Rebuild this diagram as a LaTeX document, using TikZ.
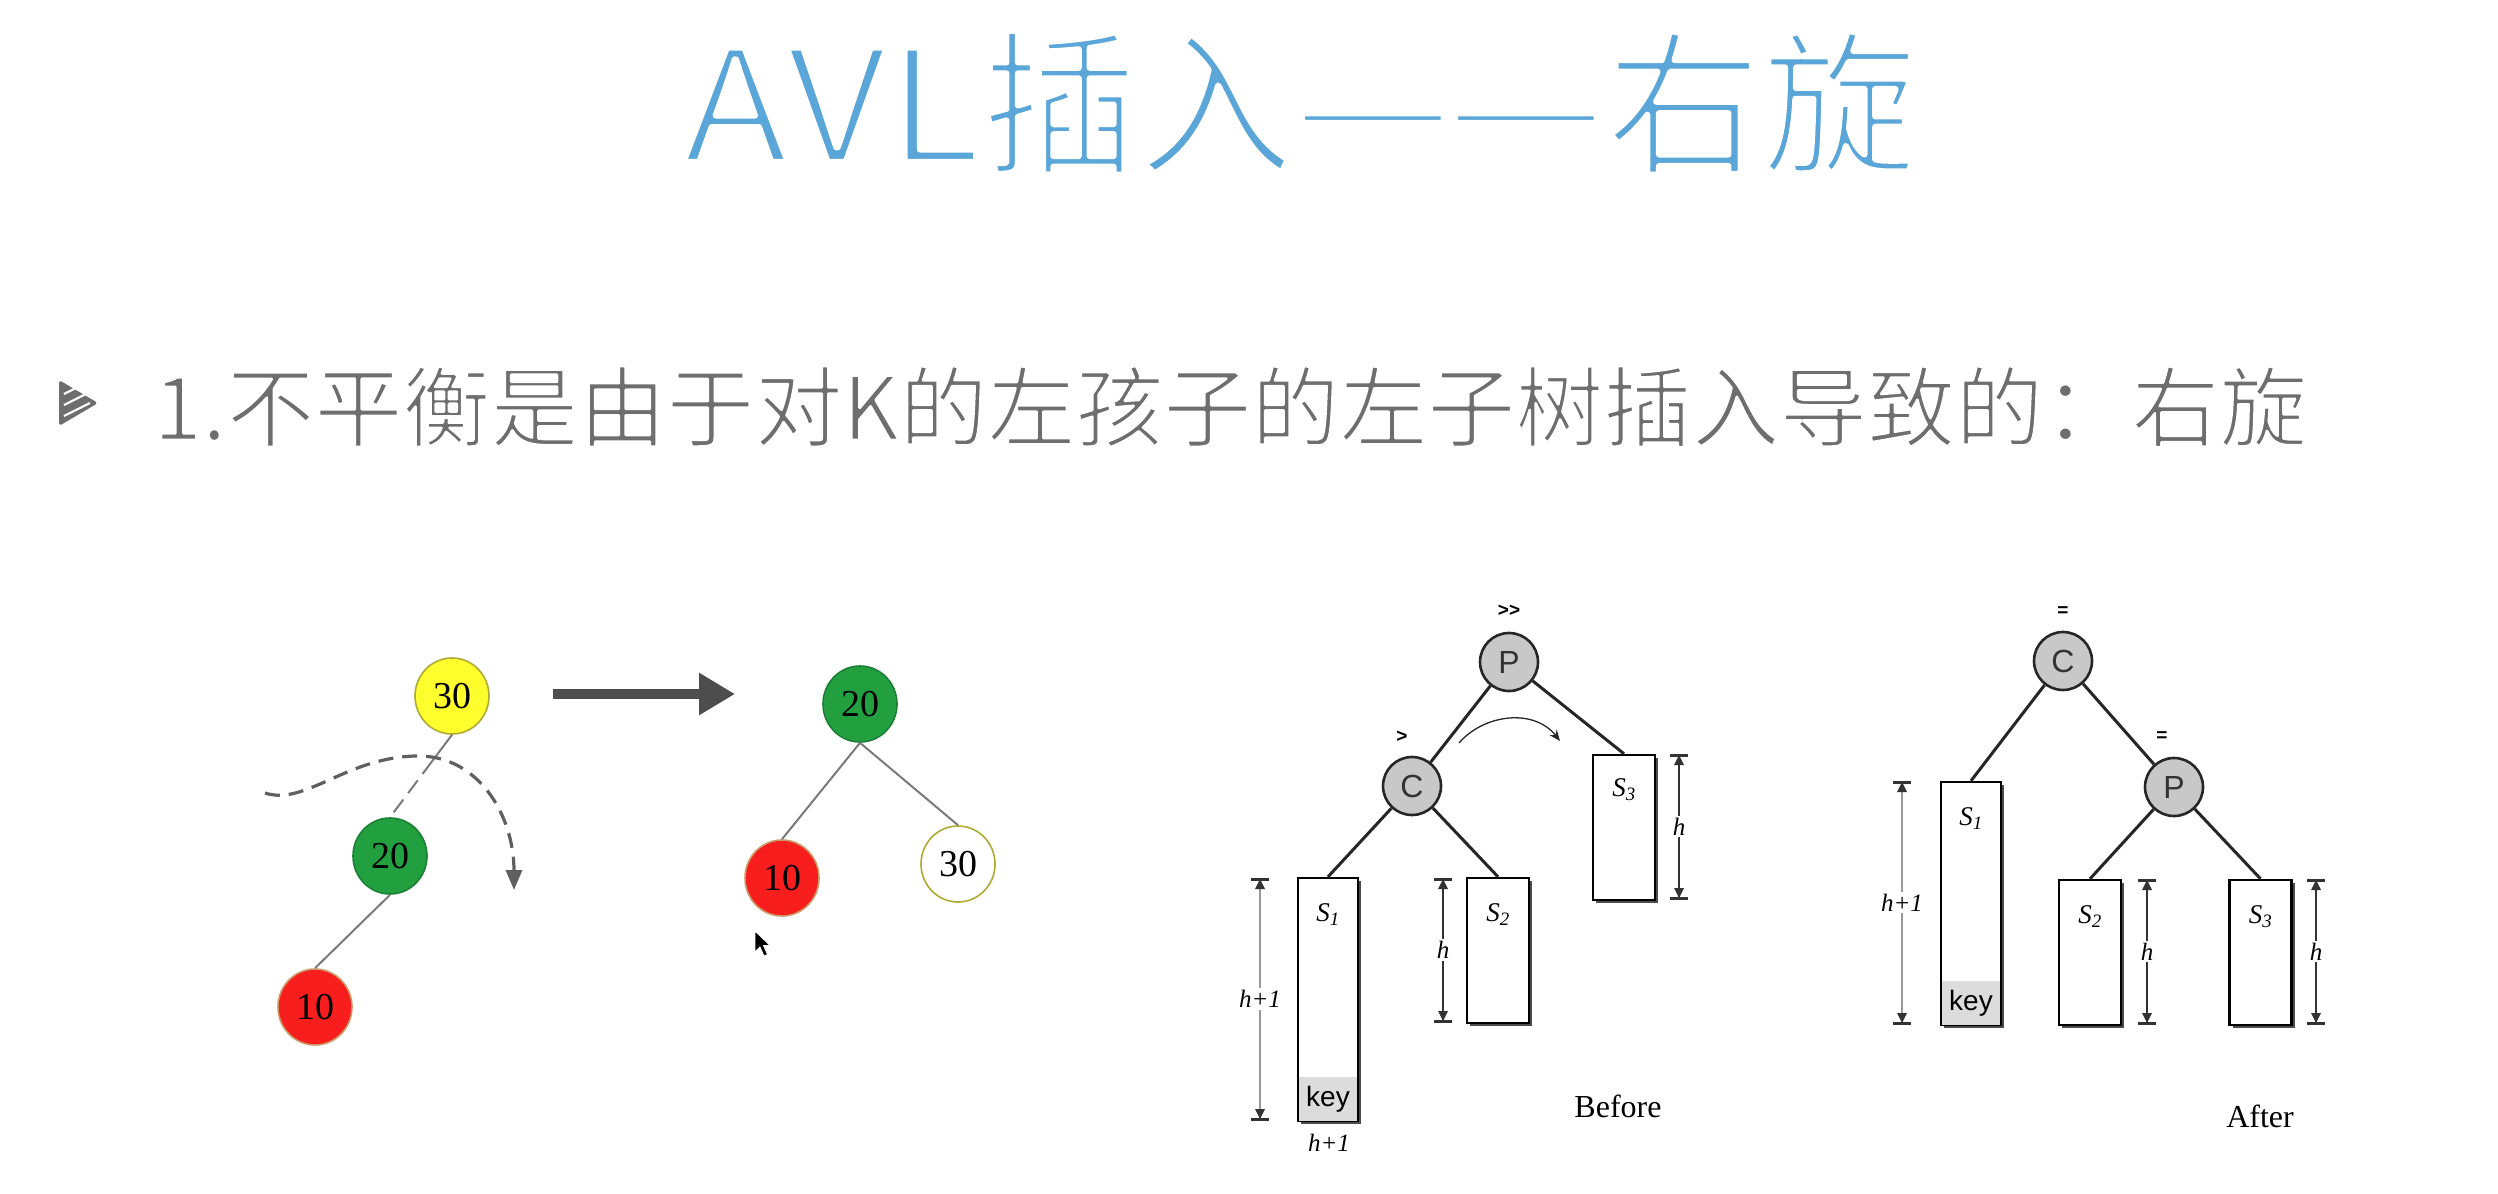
\documentclass[tikz,border=0pt]{standalone}
\usepackage{fontspec}
\setmainfont{Liberation Serif}
\newfontfamily\cjk{Noto Sans CJK SC}
\newfontfamily\lsans{Liberation Sans}
\usetikzlibrary{arrows.meta,shapes.geometric,calc,shadows}

\definecolor{titleblue}{HTML}{5AA6D8}
\definecolor{subgray}{HTML}{6E6E6E}
\definecolor{nyellow}{HTML}{FFFF2E}
\definecolor{ngreen}{HTML}{22A040}
\definecolor{nred}{HTML}{F81E1E}
\definecolor{edgegray}{HTML}{7A7A7A}
\definecolor{arrowgray}{HTML}{4D4D4D}
\definecolor{keygray}{HTML}{DCDCDC}
\definecolor{circgray}{HTML}{C8C8C8}

% light glyphs: outline stroked in white over the fill
\newcommand\lighttext[2]{\special{pdf:literal direct 2 Tr #1 w 1 1 1 RG 1 j}#2\special{pdf:literal direct 0 Tr}}
\newcommand\wide[2]{\scalebox{#1}[1]{\lighttext{6}{#2}}}

% height marker with bar ends
\newcommand\heightbar[6]{% name, x, y1, y2, label, line colour
  \draw[#6, line width=1.4] (#2,#3) -- (#2,#4);
  \draw[black!80, line width=3] (#2-9,#3) -- (#2+9,#3);
  \draw[black!80, line width=3] (#2-9,#4) -- (#2+9,#4);
  \fill[black!80] (#2,#3) -- (#2-5,#3+10) -- (#2+5,#3+10) -- cycle;
  \fill[black!80] (#2,#4) -- (#2-5,#4-10) -- (#2+5,#4-10) -- cycle;
  \node[fill=white, inner sep=2, font=\fontsize{25}{25}\selectfont\itshape] (#1) at (#2, {(#3+#4)/2}) {#5};
}

\tikzset{
  numnode/.style={ellipse, minimum width=74, minimum height=76, inner sep=0,
    line width=1.6, font=\fontsize{38}{38}\selectfont},
  treeedge/.style={edgegray, line width=2},
  rotnode/.style={circle, minimum size=58, inner sep=0, fill=circgray,
    draw=black!85, line width=2.6, font=\lsans\fontsize{32}{32}\selectfont\color{black!80}},
  subtree/.style={rectangle, draw=black, line width=2.4, fill=white, inner sep=0,
    drop shadow={shadow xshift=3pt, shadow yshift=-3pt, fill=black!70, opacity=1}},
  keybox/.style={rectangle, fill=keygray, inner sep=0, anchor=south,
    font=\lsans\fontsize{28}{28}\selectfont},
  slabel/.style={font=\fontsize{27}{27}\selectfont\itshape},
  bal/.style={font=\lsans\bfseries\fontsize{19}{19}\selectfont},
  blackedge/.style={black!85, line width=3},
  caption/.style={font=\fontsize{32}{32}\selectfont}
}

\begin{document}
\begin{tikzpicture}[x=1pt, y=-1pt]
\useasboundingbox (0,0) rectangle (2498,1194);
\fill[white] (0,0) rectangle (2498,1194);

% heading and bullet line
\node[anchor=base, inner sep=0, text=titleblue, font=\cjk\fontsize{156}{160}\selectfont]
  (title) at (1300,162) {\wide{1.12}{AVL}\lighttext{6}{插入}\wide{1.14}{—}\kern-6pt\wide{1.14}{—}\lighttext{6}{右旋}};
\fill[subgray, rounded corners=3] (59,380) -- (98,403) -- (59,426) -- cycle;
\draw[white, line width=2.2] (64,394) -- (80,386) (64,405) -- (88,393) (64,416) -- (90,403);
\node[anchor=base west, inner sep=0, text=subgray, font=\cjk\fontsize{88}{92}\selectfont]
  (sub) at (153,440) {\lighttext{2.6}{1.不平衡是由于对K的左孩子的左子树插入导致的：右旋}};

% left tree before rotation
\node[numnode, fill=nyellow, draw=olive!70] (l30) at (452,696) {30};
\node[numnode, fill=ngreen, draw=ngreen!80!black] (l20) at (390,856) {20};
\node[numnode, fill=nred, draw=brown!80] (l10) at (315,1007) {10};
\coordinate (lsplit) at ($(l30.south)!0.32!(l20.north)$);
\draw[treeedge] (l30.south) -- (lsplit);
\draw[treeedge, dash pattern=on 16pt off 8pt] (lsplit) -- (l20.north);
\draw[treeedge] (l20.south) -- (l10.north);

% rotation path
\coordinate (rs) at (265,793);
\coordinate (rp) at (415,756);
\coordinate (re) at (514,890);
\draw[arrowgray!90, line width=3.2, dash pattern=on 15pt off 9pt,
  -{Triangle[length=20pt, width=16pt]}]
  (rs) .. controls (305,806) and (345,758) .. (rp)
       .. controls (478,754) and (514,815) .. (re);

% transition arrow
\coordinate (ta) at (553,694);
\coordinate (tb) at (735,694);
\draw[arrowgray, line width=10, -{Triangle[length=36pt, width=40pt]}] (ta) -- (tb);

% right tree after rotation
\node[numnode, fill=ngreen, draw=ngreen!80!black] (r20) at (860,704) {20};
\node[numnode, fill=nred, draw=brown!80] (r10) at (782,878) {10};
\node[numnode, fill=white, draw=olive!70] (r30) at (958,864) {30};
\draw[treeedge] (r20.south) -- (r10.north);
\draw[treeedge] (r20.south) -- (r30.north);

% pointer
\filldraw[fill=black, draw=white, line width=0.8]
  (755,931) -- (755,952) -- (760,947) -- (764,956) -- (767.5,954.5) -- (763.5,945.5) -- (770,945.5) -- cycle;

% general case: before
\node[rotnode] (bP) at (1509,662) {P};
\node[rotnode] (bC) at (1412,786) {C};
\node[bal] (bPb) at (1509,611) {>>};
\node[bal] (bCb) at (1402,737) {>};
\node[subtree, minimum width=60, minimum height=243] (bS1) at (1328,999.5) {};
\node[subtree, minimum width=62, minimum height=145] (bS2) at (1498,950.5) {};
\node[subtree, minimum width=62, minimum height=145] (bS3) at (1624,827.5) {};
\node[keybox, minimum width=57.5, minimum height=44] (bkey) at ([yshift=1.2pt]bS1.south) {key};
\node[slabel] (bS1l) at ([yshift=-38pt]bS1.north) {S\textsubscript{1}};
\node[slabel] (bS2l) at ([yshift=-38pt]bS2.north) {S\textsubscript{2}};
\node[slabel] (bS3l) at ([yshift=-36pt]bS3.north) {S\textsubscript{3}};
\draw[blackedge] (bP) -- (bC);
\draw[blackedge] (bP) -- (bS3.north);
\draw[blackedge] (bC) -- (bS1.north);
\draw[blackedge] (bC) -- (bS2.north);
\coordinate (ca) at (1459,743);
\coordinate (cb) at (1560,741);
\draw[black!85, line width=1.3, -{Stealth[length=11pt, width=9pt]}]
  (ca) .. controls (1484,714) and (1534,708) .. (cb);
\heightbar{bh1}{1260}{879}{1119}{h+1}{black!40}
\heightbar{bh2}{1443}{879}{1021}{h}{black!80}
\heightbar{bh3}{1679}{755}{898}{h}{black!80}
\node[font=\fontsize{25}{25}\selectfont\itshape] (bh1b) at (1329,1143) {h+1};
\node[caption] (before) at (1618,1106) {Before};

% general case: after
\node[rotnode] (aC) at (2063,661) {C};
\node[rotnode] (aP) at (2174,787) {P};
\node[bal] (aCb) at (2063,612) {=};
\node[bal] (aPb) at (2162,737) {=};
\node[subtree, minimum width=60, minimum height=243] (aS1) at (1971,903.5) {};
\node[subtree, minimum width=62, minimum height=145] (aS2) at (2090,952.5) {};
\node[subtree, minimum width=62, minimum height=145] (aS3) at (2260.5,952.5) {};
\node[keybox, minimum width=57.5, minimum height=44] (akey) at ([yshift=1.2pt]aS1.south) {key};
\node[slabel] (aS1l) at ([yshift=-38pt]aS1.north) {S\textsubscript{1}};
\node[slabel] (aS2l) at ([yshift=-38pt]aS2.north) {S\textsubscript{2}};
\node[slabel] (aS3l) at ([yshift=-38pt]aS3.north) {S\textsubscript{3}};
\draw[blackedge] (aC) -- (aP);
\draw[blackedge] (aC) -- (aS1.north);
\draw[blackedge] (aP) -- (aS2.north);
\draw[blackedge] (aP) -- (aS3.north);
\heightbar{ah1}{1902}{782}{1023}{h+1}{black!40}
\heightbar{ah2}{2147}{880}{1023}{h}{black!80}
\heightbar{ah3}{2316}{880}{1023}{h}{black!80}
\node[caption] (after) at (2260,1116) {After};
\end{tikzpicture}
\end{document}
